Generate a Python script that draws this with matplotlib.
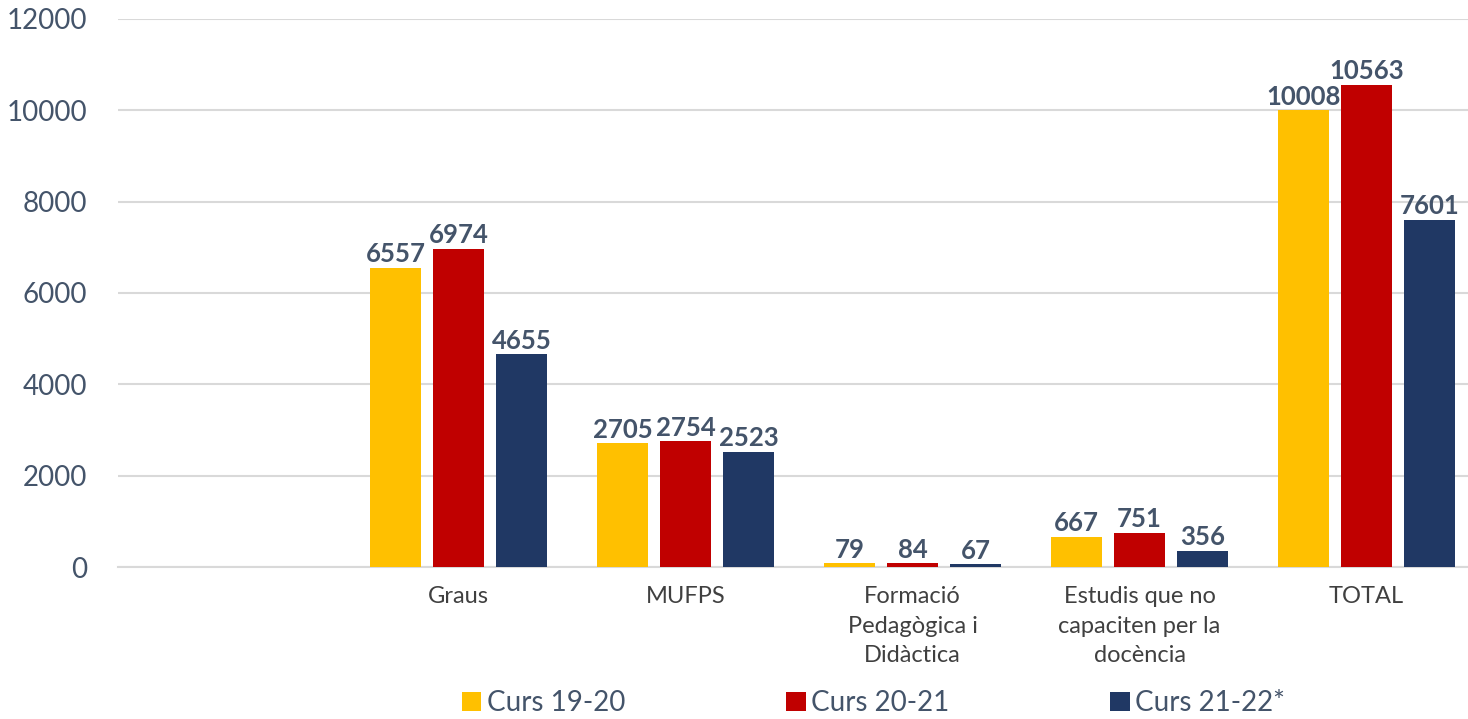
import matplotlib.pyplot as plt
import numpy as np

# ── Data ──────────────────────────────────────────────
categories = ["", "Graus", "MUFPS", "Formació\nPedagògica i\nDidàctica",
              "Estudis que no\ncapaciten per la\ndocència", "TOTAL"]
series_names = ["Curs 19-20", "Curs 20-21", "Curs 21-22*"]
curs_19_20 = [None, 6557, 2705, 79, 667, 10008]
curs_20_21 = [None, 6974, 2754, 84, 751, 10563]
curs_21_22 = [None, 4655, 2523, 67, 356, 7601]
y_ticks = [0, 2000, 4000, 6000, 8000, 10000, 12000]

colors = ["#FFC000", "#C00000", "#203864"]
text_col = "#44546A"

plt.rcParams["font.family"] = ["Lato", "DejaVu Sans"]

fig = plt.figure(figsize=(14.68, 7.19), dpi=100)
ax = fig.add_axes([0.0804, 0.2114, 0.9278, 0.7622])

x = np.arange(len(categories))
width = 0.225
step = 0.2777

for i, (vals, name) in enumerate(zip([curs_19_20, curs_20_21, curs_21_22], series_names)):
    xs = [xi + (i - 1) * step for xi, v in zip(x, vals) if v is not None]
    vs = [v for v in vals if v is not None]
    bars = ax.bar(xs, vs, width=width, color=colors[i], label=name, zorder=3)
    for b, v in zip(bars, vs):
        ax.annotate(f"{v}", (b.get_x() + b.get_width() / 2, v),
                    xytext=(0, 1), textcoords="offset points",
                    ha="center", va="bottom", fontsize=18.5, fontweight="bold",
                    color=text_col, zorder=4)

ax.set_xlim(-0.5, len(categories) - 0.5)
ax.set_ylim(0, 12000)
ax.set_yticks(y_ticks)
ax.set_yticklabels([str(t) for t in y_ticks], fontsize=20, color=text_col)
ax.set_xticks(x)
ax.set_xticklabels(categories, fontsize=17, color="#404040", linespacing=1.5)
ax.tick_params(axis="both", length=0)
ax.tick_params(axis="x", pad=14)
ax.tick_params(axis="y", pad=22)

ax.grid(axis="y", color="#D9D9D9", linewidth=1.5, zorder=0)
ax.set_axisbelow(True)
for s in ["top", "right", "left"]:
    ax.spines[s].set_visible(False)
ax.spines["bottom"].set_color("#D9D9D9")
ax.spines["bottom"].set_linewidth(1.5)

fig.legend(loc="center", bbox_to_anchor=(0.595, 0.022), ncol=3, frameon=False,
           fontsize=20, handlelength=0.7, handleheight=0.7, handletextpad=0.2,
           columnspacing=5.8, labelcolor=text_col)

fig.savefig("out.png", dpi=100)
